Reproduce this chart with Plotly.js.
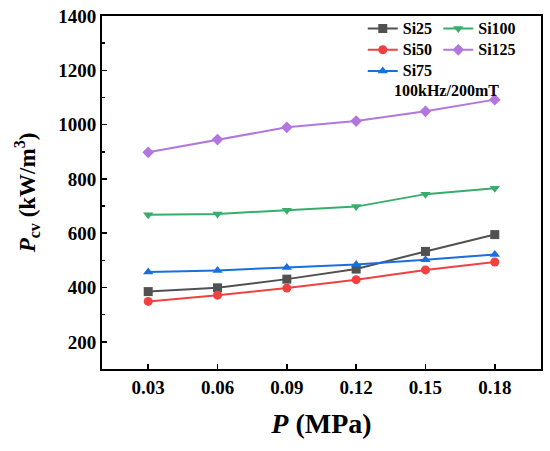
<!DOCTYPE html>
<html>
<head>
<meta charset="utf-8">
<script src="https://cdn.plot.ly/plotly-3.0.1.min.js"></script>
<style>html,body{margin:0;padding:0;background:#fff;}#chart{width:550px;height:451px;}</style>
</head>
<body>
<div id="chart"></div>
<script>
const pressure = [0.03, 0.06, 0.09, 0.12, 0.15, 0.18];
const si25  = [385, 399, 431, 468, 533, 595];
const si50  = [349, 372, 398, 429, 465, 494];
const si75  = [457, 463, 474, 485, 502, 522];
const si100 = [668, 671, 685, 698, 744, 766];
const si125 = [898, 945, 990, 1013, 1049, 1092];
const seriesNames = ['Si25', 'Si50', 'Si75', 'Si100', 'Si125'];
const xTicks = [0.03, 0.06, 0.09, 0.12, 0.15, 0.18];
const xTickText = ['0.03', '0.06', '0.09', '0.12', '0.15', '0.18'];
const yTicks = [200, 400, 600, 800, 1000, 1200, 1400];

const colors = ['#515151', '#F14040', '#1A6FDF', '#37AD6B', '#B177DE'];
const symbols = ['square', 'circle', 'triangle-up', 'triangle-down', 'diamond'];
const values = [si25, si50, si75, si100, si125];
const legends = ['legend', 'legend', 'legend', 'legend2', 'legend2'];

const serif = 'Liberation Serif';

const traces = values.map((v, i) => ({
  x: pressure, y: v, type: 'scatter', mode: 'lines+markers',
  name: '<span style="font-size:16px">' + seriesNames[i] + '</span>',
  line: {color: colors[i], width: 2},
  marker: {symbol: symbols[i], size: 9, color: colors[i]},
  legend: legends[i]
}));

const legendCommon = {
  orientation: 'v', xanchor: 'left', yanchor: 'top',
  bgcolor: 'rgba(0,0,0,0)', borderwidth: 0,
  font: {family: serif, size: 14, color: '#000', weight: 'bold'},
  tracegroupgap: 0, itemwidth: 30
};

const layout = {
  width: 550, height: 451,
  margin: {l: 102, r: 9, t: 16, b: 82},
  paper_bgcolor: '#fff', plot_bgcolor: '#fff',
  font: {family: serif},
  showlegend: true,
  legend: Object.assign({}, legendCommon, {x: 0.594, y: 1.0085}),
  legend2: Object.assign({}, legendCommon, {x: 0.766, y: 1.0085}),
  xaxis: {
    range: [0.01, 0.2], tickvals: xTicks, ticktext: xTickText,
    ticks: 'inside', ticklen: 5, tickwidth: 1.5, tickcolor: '#000',
    showline: true, linewidth: 2, linecolor: '#000', mirror: true,
    showgrid: false, zeroline: false,
    tickfont: {family: serif, size: 19, color: '#000', weight: 'bold'},
    title: {text: '<b><i>P</i> (MPa)</b>', font: {family: serif, size: 28, color: '#000'}, standoff: 17}
  },
  yaxis: {
    range: [100, 1400], tickvals: yTicks,
    ticks: 'inside', ticklen: 5, tickwidth: 1.5, tickcolor: '#000',
    minor: {dtick: 100, ticks: 'inside', ticklen: 3, tickwidth: 1.5, tickcolor: '#000'},
    showline: true, linewidth: 2, linecolor: '#000', mirror: true,
    showgrid: false, zeroline: false,
    tickfont: {family: serif, size: 19, color: '#000', weight: 'bold'},
    title: {text: '<b><i>P</i><sub>cv</sub> (kW/m<sup>3</sup>)</b>', font: {family: serif, size: 23, color: '#000'}, standoff: 16}
  },
  annotations: [{
    xref: 'paper', yref: 'paper', x: (446 - 102) / 439, y: 1 - (91 - 16) / 353,
    xanchor: 'center', yanchor: 'middle', showarrow: false,
    text: '<b>100kHz/200mT</b>', font: {family: serif, size: 16, color: '#000'}
  }]
};

Plotly.newPlot('chart', traces, layout, {displayModeBar: false, staticPlot: true});
</script>
</body>
</html>
